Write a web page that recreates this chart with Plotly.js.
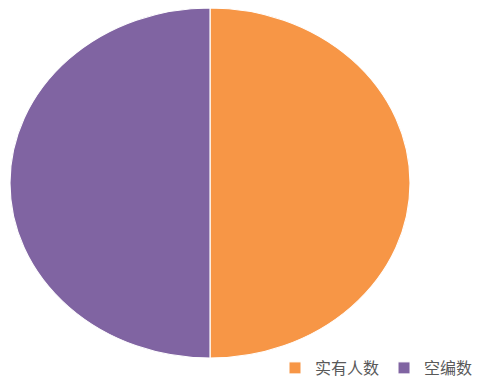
<!DOCTYPE html>
<html><head><meta charset="utf-8">
<script src="https://cdn.plot.ly/plotly-3.0.1.min.js"></script>
<style>html,body{margin:0;padding:0;background:#fff;}#chart{width:485px;height:385px;}</style>
</head><body><div id="chart"></div>
<script>
const categories = ['实有人数', '空编数'];
const values = [50, 50];
const colors = ['#F79646', '#8064A2'];

const trace = {
  type: 'pie',
  labels: categories,
  values: values,
  sort: false,
  direction: 'clockwise',
  rotation: 0,
  textinfo: 'none',
  hoverinfo: 'label+value',
  marker: {colors: colors, line: {color: '#ffffff', width: 1}},
  domain: {x: [35/485, 385/485], y: [27/385, 377/385]}
};
const layout = {
  width: 485, height: 385,
  margin: {l: 0, r: 0, t: 0, b: 0},
  paper_bgcolor: '#ffffff',
  showlegend: true,
  legend: {
    orientation: 'h', x: 1 - 7/485, xanchor: 'right', y: 0, yanchor: 'bottom',
    itemwidth: 30, traceorder: 'normal',
    font: {family: 'Noto Sans CJK SC, sans-serif', size: 16, color: '#595959'}
  },
  font: {family: 'Noto Sans CJK SC, sans-serif'}
};
Plotly.newPlot('chart', [trace], layout, {displayModeBar: false, staticPlot: true}).then(function(gd){
  // stretch the pie horizontally into the ellipse of the reference
  const g = gd.querySelector('.pielayer');
  if (g) g.setAttribute('transform', 'translate(210,183) scale(1.143,1) translate(-210,-183)');
});
</script></body></html>
